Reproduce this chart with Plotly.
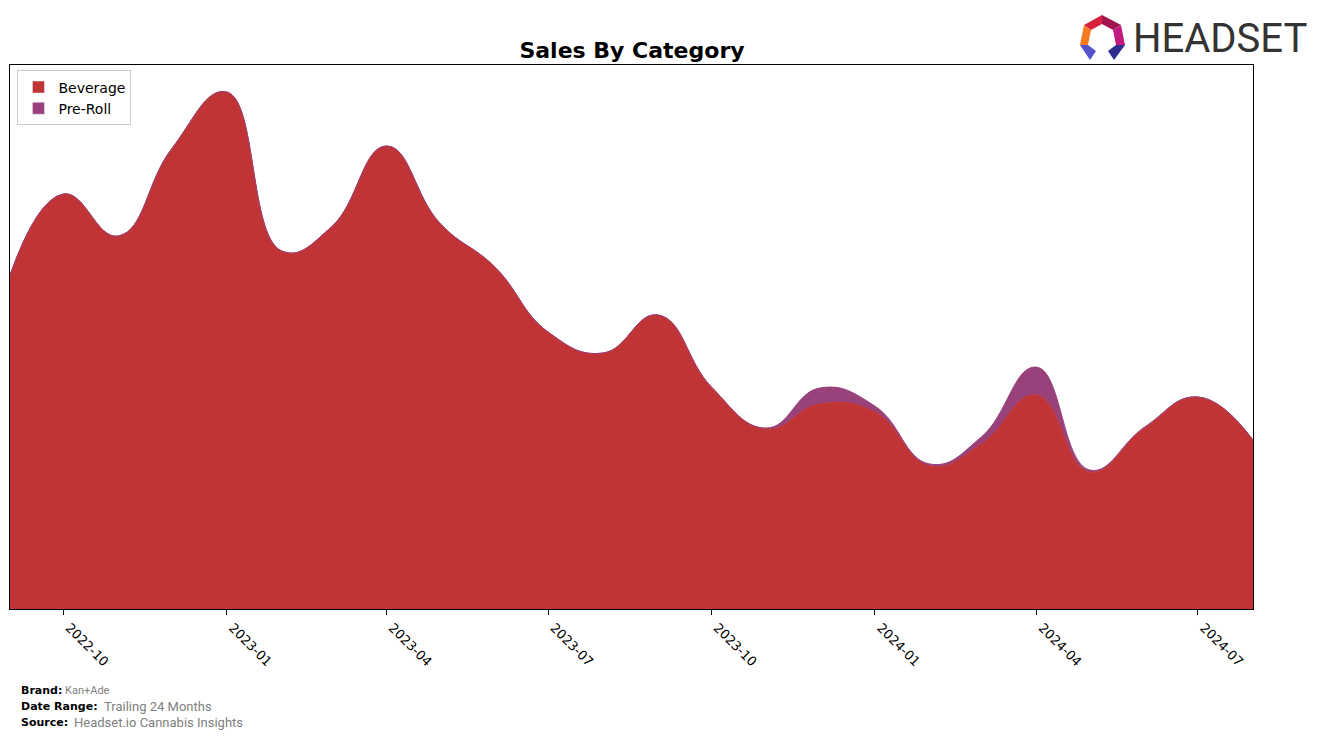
import plotly.graph_objects as go

months = ["2022-09-01", "2022-10-01", "2022-11-01", "2022-12-01", "2023-01-01", "2023-02-01",
          "2023-03-01", "2023-04-01", "2023-05-01", "2023-06-01", "2023-07-01", "2023-08-01",
          "2023-09-01", "2023-10-01", "2023-11-01", "2023-12-01", "2024-01-01", "2024-02-01",
          "2024-03-01", "2024-04-01", "2024-05-01", "2024-06-01", "2024-07-01", "2024-08-01"]
beverage = [334, 415, 373, 460, 517, 358, 382, 463, 386, 342, 277, 256,
            294, 222, 180, 205, 197, 143, 165, 214, 137, 181, 212, 169]
preroll = [0, 0, 0, 0, 0, 0, 0, 0, 0, 0, 0, 0,
           0, 0, 1, 16, 6, 2, 7, 28, 2, 1, 0, 0]
series_names = ["Beverage", "Pre-Roll"]
series_colors = ["#c13436", "#99417a"]

OFF = 8  # page body margin
W, H = 1317 - OFF, 738 - OFF
L, R, T, B = 10, 1253, 65, 609  # plot area in window pixels


def px(x):
    return (x - L) / (R - L)


def py(y):
    return (B - y) / (B - T)


fig = go.Figure()
for name, vals, col in zip(series_names, [beverage, preroll], series_colors):
    fig.add_trace(go.Scatter(
        x=months, y=vals, name=name, stackgroup="one", mode="lines",
        line=dict(color=col, width=1, shape="spline", smoothing=1.3),
        fillcolor=col, hoverinfo="skip", showlegend=False))
# legend entries with filled rectangular swatches
for name, col in zip(series_names, series_colors):
    fig.add_trace(go.Bar(x=[None], y=[None], name=name, marker=dict(color=col),
                         showlegend=True, hoverinfo="skip"))

fig.update_layout(
    width=W, height=H,
    margin=dict(l=L - OFF, r=1317 - R, t=T - OFF, b=738 - B),
    paper_bgcolor="white", plot_bgcolor="white",
    font=dict(family="DejaVu Sans", color="black"),
    title=dict(text="<b>Sales By Category</b>", x=(632 - OFF) / W,
               xanchor="center", y=1 - (50 - OFF) / H, yanchor="middle", yref="container",
               font=dict(size=22, family="DejaVu Sans", color="black")),
    showlegend=True,
    legend=dict(x=0.006, y=0.99, xanchor="left", yanchor="top", traceorder="normal",
                bgcolor="rgba(255,255,255,0.8)", bordercolor="#cccccc", borderwidth=1,
                font=dict(size=14, family="DejaVu Sans"), tracegroupgap=0),
    xaxis=dict(range=["2022-09-01", "2024-08-01"], tick0="2022-10-01", dtick="M3",
               tickformat="%Y-%m", tickangle=45, ticks="outside", ticklen=5,
               tickcolor="black", showline=True, linecolor="black", linewidth=1,
               mirror=True, showgrid=False, zeroline=False, ticklabelshift=6,
               tickfont=dict(size=13, family="DejaVu Sans", color="black")),
    yaxis=dict(range=[0, 544], showticklabels=False, ticks="", showline=True,
               linecolor="black", linewidth=1, mirror=True, showgrid=False,
               zeroline=False),
)

# Footer
footer = [
    ("Brand:", "Kan+Ade", 690, 63, 11),
    ("Date Range:", "Trailing 24 Months", 706, 102, 13),
    ("Source:", "Headset.io Cannabis Insights", 722, 72, 13),
]
for lab, val, y, vx, vs in footer:
    fig.add_annotation(text="<b>" + lab + "</b>", x=px(19), y=py(y), xref="paper", yref="paper",
                       xanchor="left", yanchor="middle", showarrow=False,
                       font=dict(size=11, family="DejaVu Sans", color="black"))
    fig.add_annotation(text=val, x=px(vx), y=py(y), xref="paper", yref="paper",
                       xanchor="left", yanchor="middle", showarrow=False,
                       font=dict(size=vs, family="Roboto", color="#808080"))

# Logo
logo_parts = [
    ([(1084, 25), (1102, 15), (1102, 24), (1091, 30)], "#d9203a"),
    ([(1102, 15), (1121, 25), (1113, 30), (1102, 24)], "#a3154f"),
    ([(1121, 25), (1125, 45), (1116, 45), (1113, 30)], "#c21a80"),
    ([(1084, 25), (1091, 30), (1088, 45), (1080, 45)], "#f47b20"),
    ([(1080, 45), (1088, 45), (1096, 51), (1090, 60)], "#5552cc"),
    ([(1125, 45), (1116, 45), (1108, 51), (1114, 60)], "#2d2d8f"),
]
for pts, col in logo_parts:
    path = "M " + " L ".join(f"{px(x):.5f},{py(y):.5f}" for x, y in pts) + " Z"
    fig.add_shape(type="path", path=path, xref="paper", yref="paper",
                  fillcolor=col, line=dict(width=0))
fig.add_annotation(text="HEADSET", x=px(1131), y=py(38), xref="paper", yref="paper",
                   xanchor="left", yanchor="middle", showarrow=False,
                   font=dict(size=40, family="Roboto", color="#333333"))

fig.write_html("out.html", config={"displayModeBar": False})
